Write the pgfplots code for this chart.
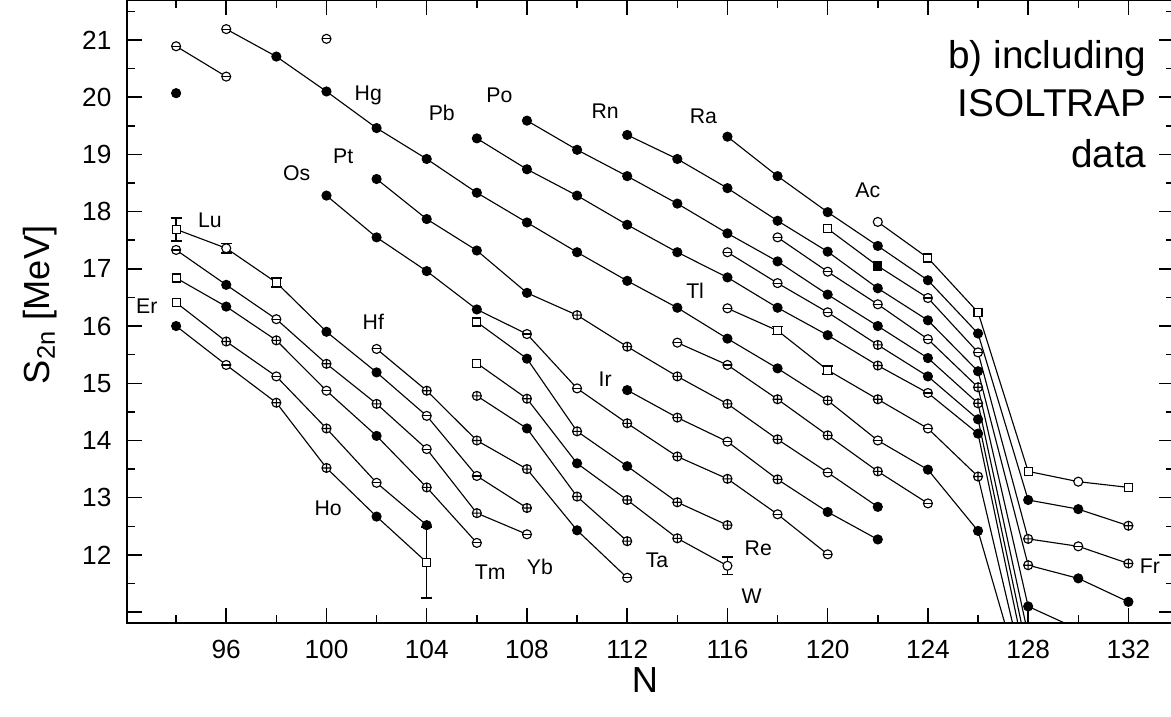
\documentclass[border=0pt]{standalone}
\usepackage{pgfplots}
\pgfplotsset{compat=1.18}
\usepackage{fontspec}
\setmainfont{Liberation Sans}
\pgfdeclareplotmark{ominus}{%
  \pgfpathcircle{\pgfpointorigin}{\pgfplotmarksize}%
  \pgfusepathqfillstroke
  \pgfpathmoveto{\pgfqpoint{-\pgfplotmarksize}{0pt}}%
  \pgfpathlineto{\pgfqpoint{\pgfplotmarksize}{0pt}}%
  \pgfusepathqstroke}
\pgfplotsset{
  chain/.style={black, line width=0.45pt, mark size=1.8pt, scatter,
    point meta=explicit symbolic,
    scatter/classes={
      f={mark=*, draw=black, fill=black},
      c={mark=oplus*, draw=black, fill=white},
      e={mark=ominus, draw=black, fill=white},
      s={mark=square*, draw=black, fill=white, mark size=1.6pt},
      o={mark=*, draw=black, fill=white},
      q={mark=square*, draw=black, fill=black, mark size=1.6pt}}}
}
\tikzset{lab/.style={font=\fontsize{8.5}{10}\selectfont, inner sep=0pt}}
\begin{document}
\begin{tikzpicture}
\begin{axis}[
  scale only axis, width=418.8pt, height=249pt,
  xmin=92.04, xmax=133.82, ymin=10.81, ymax=21.69,
  xtick={96,100,...,132}, minor xtick={94,98,...,134},
  ytick={11,...,21}, yticklabels={,12,13,14,15,16,17,18,19,20,21},
  minor ytick={11.5,12.5,...,21.5},
  major tick length=6pt, minor tick length=3.2pt,
  tick style={black, line width=0.6pt},
  axis line style={line width=0.8pt},
  /pgf/number format/assume math mode=true,
  tick label style={font=\fontsize{10.5}{12}\selectfont},
  xticklabel style={yshift=-3.3pt},
  yticklabel style={xshift=-2.7pt},
  xlabel={N}, ylabel={S\textsubscript{2n} [MeV]},
  label style={font=\fontsize{14.5}{17}\selectfont},
  xlabel style={at={(axis description cs:0.4947,-0.0916)}, anchor=center},
  ylabel style={at={(axis description cs:-0.0831,0.511)}, anchor=center},
  clip=true,
]
% error bars (drawn first, markers of the chains cover their centres)
\addplot[black, line width=0.5pt, only marks, mark=*, mark size=0.05pt, forget plot,
  error bars/.cd, y dir=both, y explicit,
  error bar style={black, line width=0.5pt},
  error mark options={rotate=90, black, mark size=2.2pt, line width=0.6pt}]
  coordinates {(94,17.69) +- (0,0.2) (96,17.36) +- (0,0.08) (98,16.76) +- (0,0.08)
  (104,11.87) +- (0,0.62) (116,11.81) +- (0,0.15) (118,15.92) +- (0,0.07)
  (120,15.23) +- (0,0.07)};
% Ho
\addplot[chain] coordinates {(94,16.00)[f] (96,15.32)[e] (98,14.66)[c] (100,13.52)[c] (102,12.67)[f] (104,11.87)[s]};
% Er
\addplot[chain] coordinates {(94,16.41)[s] (96,15.73)[c] (98,15.12)[e] (100,14.21)[c] (102,13.26)[e] (104,12.52)[f]};
% Tm
\addplot[chain] coordinates {(94,16.84)[s] (96,16.34)[f] (98,15.75)[c] (100,14.87)[e] (102,14.08)[f] (104,13.18)[c] (106,12.21)[e]};
% Yb
\addplot[chain] coordinates {(94,17.33)[e] (96,16.72)[f] (98,16.12)[e] (100,15.34)[c] (102,14.64)[c] (104,13.85)[e] (106,12.73)[c] (108,12.36)[e]};
% Lu
\addplot[chain] coordinates {(94,17.69)[s] (96,17.36)[o] (98,16.76)[s] (100,15.90)[f] (102,15.19)[f] (104,14.43)[e] (106,13.38)[e] (108,12.82)[c]};
% Hf
\addplot[chain] coordinates {(102,15.60)[e] (104,14.87)[c] (106,14.00)[c] (108,13.50)[c] (110,12.43)[f] (112,11.60)[e]};
% Ta
\addplot[chain] coordinates {(106,14.78)[c] (108,14.21)[f] (110,13.02)[c] (112,12.24)[c]};
% W
\addplot[chain] coordinates {(106,15.35)[s] (108,14.73)[c] (110,13.60)[f] (112,12.96)[c] (114,12.29)[c] (116,11.81)[o]};
% Re
\addplot[chain] coordinates {(106,16.07)[s] (108,15.43)[f] (110,14.16)[c] (112,13.55)[f] (114,12.92)[c] (116,12.52)[c]};
% Os
\addplot[chain] coordinates {(100,18.28)[f] (102,17.55)[f] (104,16.96)[f] (106,16.29)[f] (108,15.86)[e] (110,14.91)[e] (112,14.30)[c] (114,13.72)[c] (116,13.33)[c] (118,12.71)[e] (120,12.01)[e]};
% Ir
\addplot[chain] coordinates {(112,14.88)[f] (114,14.40)[c] (116,13.98)[e] (118,13.32)[c] (120,12.75)[f] (122,12.27)[f]};
% Pt
\addplot[chain] coordinates {(94,20.89)[e] (96,20.36)[e]};
\addplot[chain] coordinates {(102,18.57)[f] (104,17.87)[f] (106,17.32)[f] (108,16.58)[f] (110,16.19)[c] (112,15.64)[c] (114,15.12)[c] (116,14.64)[c] (118,14.02)[c] (120,13.44)[e] (122,12.84)[f]};
% Au
\addplot[chain] coordinates {(114,15.71)[e] (116,15.32)[e] (118,14.72)[c] (120,14.09)[c] (122,13.46)[c] (124,12.90)[e]};
% Hg
\addplot[chain] coordinates {(96,21.19)[e] (98,20.71)[f] (100,20.10)[f] (102,19.46)[f] (104,18.92)[f] (106,18.33)[f] (108,17.81)[f] (110,17.29)[f] (112,16.79)[f] (114,16.32)[f] (116,15.78)[f] (118,15.26)[f] (120,14.70)[c] (122,14.00)[e] (124,13.49)[f] (126,12.42)[f] (128,9.40)[f]};
% Tl
\addplot[chain] coordinates {(116,16.31)[e] (118,15.92)[s] (120,15.23)[s] (122,14.72)[c] (124,14.21)[e] (126,13.37)[c] (128,9.65)[f]};
% Pb
\addplot[chain] coordinates {(106,19.28)[f] (108,18.74)[f] (110,18.28)[f] (112,17.77)[f] (114,17.29)[f] (116,16.85)[f] (118,16.32)[f] (120,15.84)[f] (122,15.31)[c] (124,14.83)[e] (126,14.12)[f] (128,9.95)[f]};
% Bi
\addplot[chain] coordinates {(116,17.29)[e] (118,16.75)[e] (120,16.24)[e] (122,15.67)[c] (124,15.12)[f] (126,14.37)[f] (128,10.25)[f]};
% Po
\addplot[chain] coordinates {(108,19.59)[f] (110,19.08)[f] (112,18.62)[f] (114,18.14)[f] (116,17.62)[f] (118,17.13)[f] (120,16.55)[f] (122,16.00)[f] (124,15.44)[f] (126,14.65)[c] (128,10.60)[f]};
% At
\addplot[chain] coordinates {(118,17.55)[e] (120,16.95)[e] (122,16.38)[e] (124,15.77)[e] (126,14.93)[c] (128,11.10)[f] (130,10.70)[f]};
% Rn
\addplot[chain] coordinates {(112,19.34)[f] (114,18.92)[f] (116,18.41)[f] (118,17.84)[f] (120,17.30)[f] (122,16.66)[f] (124,16.10)[f] (126,15.21)[f] (128,11.82)[c] (130,11.59)[f] (132,11.18)[f]};
% Fr
\addplot[chain] coordinates {(120,17.70)[s] (122,17.05)[q] (124,16.49)[e] (126,15.54)[e] (128,12.28)[c] (130,12.15)[e] (132,11.85)[c]};
% Ra
\addplot[chain] coordinates {(116,19.31)[f] (118,18.62)[f] (120,17.99)[f] (122,17.40)[f] (124,16.80)[f] (126,15.87)[f] (128,12.96)[f] (130,12.80)[f] (132,12.51)[c]};
% Ac
\addplot[chain] coordinates {(122,17.82)[o] (124,17.19)[s] (126,16.24)[s] (128,13.46)[s] (130,13.28)[o] (132,13.18)[s]};
% isolated points
\addplot[chain, only marks] coordinates {(94,20.07)[f] (100,21.02)[e]};
% labels
\node[lab] at (axis cs:92.83,16.35) {Er};
\node[lab] at (axis cs:95.35,17.84) {Lu};
\node[lab] at (axis cs:101.87,16.08) {Hf};
\node[lab] at (axis cs:100.07,12.82) {Ho};
\node[lab] at (axis cs:106.53,11.70) {Tm};
\node[lab] at (axis cs:108.52,11.79) {Yb};
\node[lab] at (axis cs:113.19,11.90) {Ta};
\node[lab] at (axis cs:116.97,11.27) {W};
\node[lab] at (axis cs:117.23,12.12) {Re};
\node[lab] at (axis cs:98.81,18.68) {Os};
\node[lab] at (axis cs:111.12,15.07) {Ir};
\node[lab] at (axis cs:100.67,18.96) {Pt};
\node[lab] at (axis cs:101.67,20.04) {Hg};
\node[lab] at (axis cs:114.71,16.62) {Tl};
\node[lab] at (axis cs:104.60,19.73) {Pb};
\node[lab] at (axis cs:106.90,20.04) {Po};
\node[lab] at (axis cs:111.12,19.75) {Rn};
\node[lab] at (axis cs:115.04,19.67) {Ra};
\node[lab] at (axis cs:121.60,18.38) {Ac};
\node[lab] at (axis cs:132.86,11.80) {Fr};
\node[anchor=base east, inner sep=0pt, font=\fontsize{15.5}{18}\selectfont] at (axis cs:132.74,20.51) {b) including};
\node[anchor=base east, inner sep=0pt, font=\fontsize{15.5}{18}\selectfont] at (axis cs:132.74,19.66) {ISOLTRAP};
\node[anchor=base east, inner sep=0pt, font=\fontsize{15.5}{18}\selectfont] at (axis cs:132.74,18.77) {data};
\end{axis}
\pgfresetboundingbox
\path ([shift={(-50.8pt,-37.2pt)}]current axis.south west) rectangle ([shift={(-1.2pt,0.2pt)}]current axis.north east);
\end{tikzpicture}
\end{document}
